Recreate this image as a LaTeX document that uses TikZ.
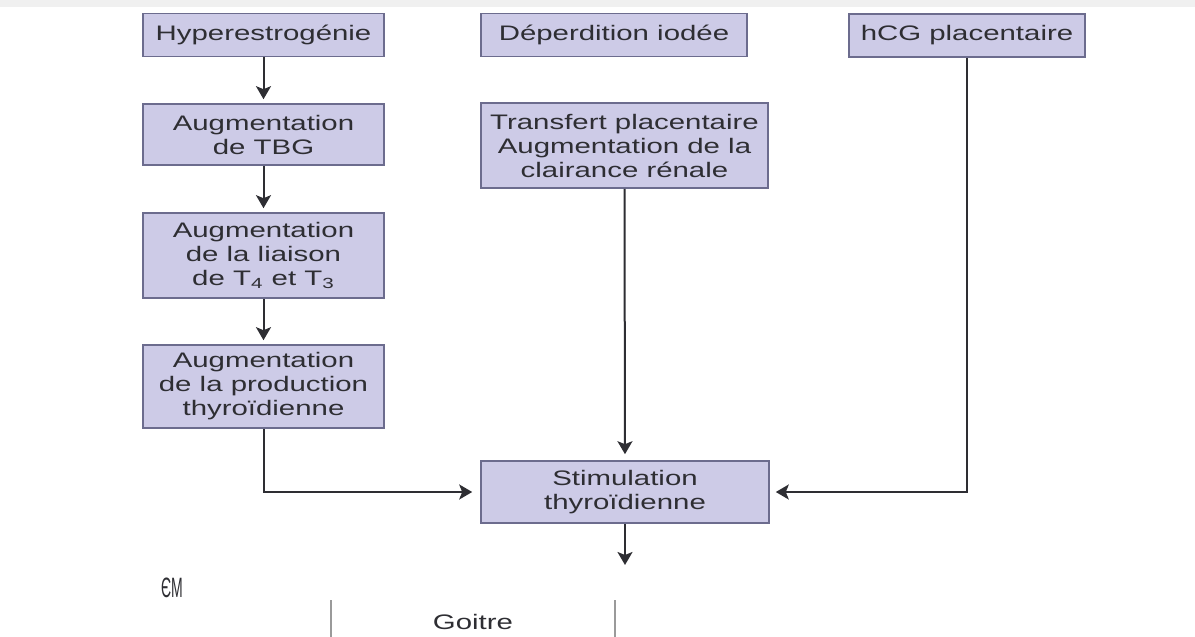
\documentclass[tikz,border=0pt]{standalone}
\usepackage{fontspec}
\usetikzlibrary{arrows.meta}

\newfontfamily\boxfont[FakeStretch=1.4]{Liberation Sans}
\newfontfamily\logofont[FakeStretch=0.5]{Liberation Sans}
\definecolor{boxfill}{HTML}{CDCBE7}
\definecolor{boxline}{HTML}{6C6C8E}
\definecolor{ink}{HTML}{2E2E33}
\definecolor{rulegray}{HTML}{9A9A9A}

\begin{document}
\begin{tikzpicture}[x=0.5pt,y=-0.5pt,
    box/.style={draw=boxline, fill=boxfill, line width=0.8pt, text=ink,
        align=center, inner sep=0pt, font=\boxfont\fontsize{10.5}{12}\selectfont},
    link/.style={draw=ink, line width=1pt,
        -{Stealth[length=6.5pt,width=7.5pt,inset=1.5pt]}, shorten >=2pt}]
\useasboundingbox (0,0) rectangle (1195,637);

% screenshot edge
\fill[gray!12] (0,0) rectangle (1195,7);

% left column
\node[box, minimum width=120.5pt, minimum height=21.5pt] (hyper) at (263.5,35)
    {Hyperestrogénie};
\node[box, minimum width=120.5pt, minimum height=30.5pt] (tbg) at (263.5,134.5)
    {Augmentation\\de TBG};
\node[box, minimum width=120.5pt, minimum height=42.5pt] (liaison) at (263.5,255.5)
    {Augmentation\\de la liaison\\de T\textsubscript{4} et T\textsubscript{3}};
\node[box, minimum width=120.5pt, minimum height=41.5pt] (prod) at (263.5,386.5)
    {Augmentation\\de la production\\thyroïdienne};

% middle column
\node[box, minimum width=133pt, minimum height=21.5pt] (iode) at (614,35)
    {Déperdition iodée};
\node[box, minimum width=143.5pt, minimum height=42.5pt] (transfert) at (624.5,145.5)
    {Transfert placentaire\\Augmentation de la\\clairance rénale};
\node[box, minimum width=144pt, minimum height=31pt] (stim) at (625,492)
    {Stimulation\\thyroïdienne};

% right column
\node[box, minimum width=118pt, minimum height=21.5pt] (hcg) at (967,35.5)
    {hCG placentaire};

% arrows
\draw[link] (hyper.south) -- (tbg.north);
\draw[link] (tbg.south) -- (liaison.north);
\draw[link] (liaison.south) -- (prod.north);
\draw[link, shorten >=4pt] (prod.south) |- (stim.west);
\draw[link, shorten >=3pt] (transfert.south) -- (stim.north);
\draw[link, shorten >=3pt] (hcg.south) |- (stim.east);
\coordinate (out) at (625,565);
\draw[link, shorten >=0pt] (stim.south) -- (out);

% logo and table row
\node[text=ink, font=\logofont\fontsize{14}{14}\selectfont] (logo) at (172,588) {ЄM};
\node[text=ink, font=\boxfont\fontsize{10.5}{12}\selectfont] (goitre) at (473,622) {Goitre};
\coordinate (gl) at (331,600);
\coordinate (gr) at (615,600);
\draw[rulegray, line width=0.6pt] (gl) -- (331,637);
\draw[rulegray, line width=0.6pt] (gr) -- (615,637);

\end{tikzpicture}
\end{document}
